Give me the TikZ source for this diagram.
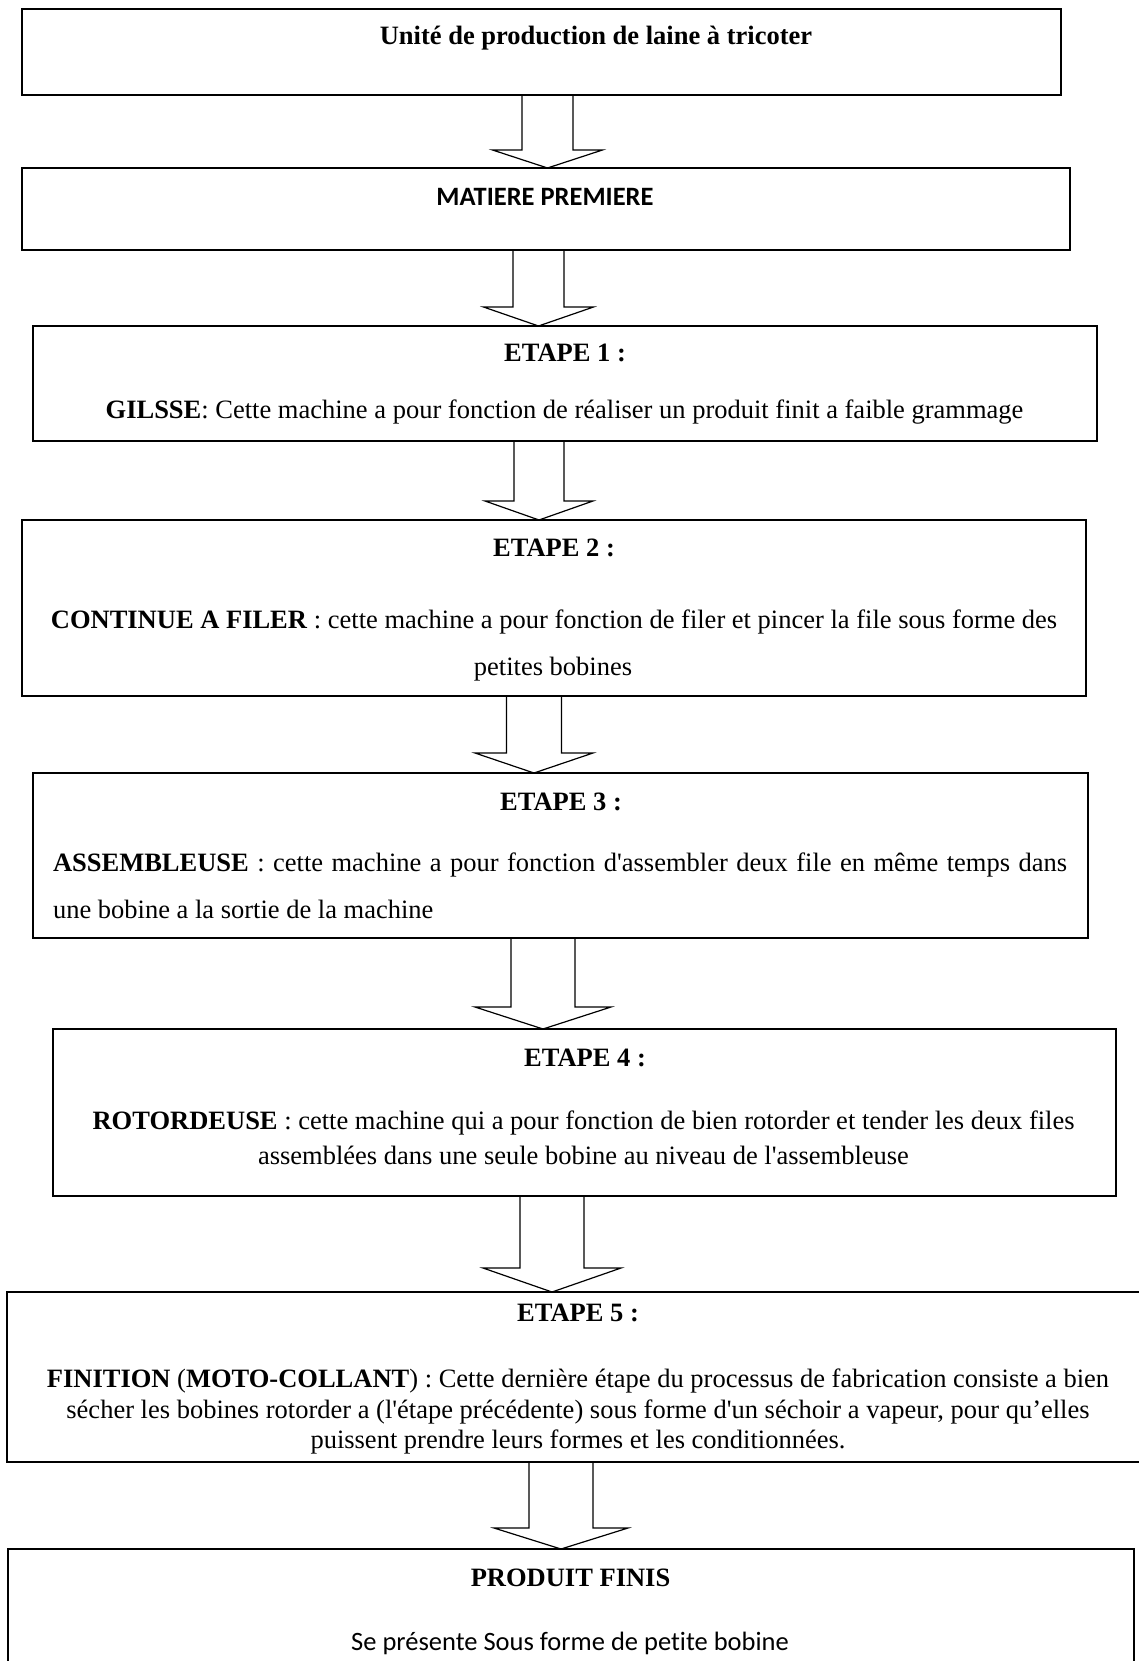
\documentclass[tikz,border=0pt]{standalone}
\usepackage{fontspec}
\setmainfont{Liberation Serif}
\newfontfamily\calibri{Carlito}[Ligatures={NoCommon}]
\usetikzlibrary{calc}

\tikzset{
  box/.style={draw=black, line width=1.6pt, inner sep=0pt, outer sep=0pt, anchor=north west},
  flow/.style={draw=black, line width=1.2pt, line join=miter},
  txt/.style={inner sep=0pt, outer sep=0pt, anchor=base, font=\fontsize{26.5}{30}\selectfont},
  hd/.style={txt, font=\fontsize{26.5}{30}\selectfont\bfseries},
  sans/.style={txt, font=\fontsize{26.5}{30}\selectfont\calibri},
}

% framed stage: name, left, top, right, bottom
\newcommand\stagebox[5]{%
  \node[box, minimum width={#4-#2}, minimum height={#5-#3}] (#1) at (#2,#3) {};}

% hollow block arrow between two stages:
% from, to, centre x, half shaft width, half head width, head length
\newcommand\blockarrow[6]{%
  \draw[flow] let \p1=(#1.south), \p2=(#2.north) in
    ({#3pt-#4pt},\y1) -- ({#3pt-#4pt},{\y2+#6pt}) -- ({#3pt-#5pt},{\y2+#6pt})
    -- (#3pt,\y2) -- ({#3pt+#5pt},{\y2+#6pt}) -- ({#3pt+#4pt},{\y2+#6pt})
    -- ({#3pt+#4pt},\y1);}

\begin{document}
\begin{tikzpicture}[x=1pt,y=-1pt]
\clip (0,0) rectangle (1139,1661);
\fill[white] (0,0) rectangle (1139,1661);

% stages
\stagebox{b1}{22}{9}{1061}{95}
\stagebox{b2}{22}{168}{1070}{250}
\stagebox{b3}{33}{326}{1097}{441}
\stagebox{b4}{22}{520}{1086}{696}
\stagebox{b5}{33}{773}{1088}{938}
\stagebox{b6}{53}{1029}{1116}{1196}
\stagebox{b7}{7}{1292}{1150}{1462}
\stagebox{b8}{8}{1549}{1134}{1690}

% flow between stages
\blockarrow{b1}{b2}{547.5}{25.5}{55}{18}
\blockarrow{b2}{b3}{538.5}{25.5}{55}{19}
\blockarrow{b3}{b4}{539}{25}{54}{19}
\blockarrow{b4}{b5}{534}{27.5}{59}{20}
\blockarrow{b5}{b6}{543}{32}{68}{22}
\blockarrow{b6}{b7}{552}{32}{69}{24}
\blockarrow{b7}{b8}{561}{32}{67}{21}

% texts
\node[hd] (t1) at (596,45) {Unité de production de laine à tricoter};
\node[sans, font=\fontsize{26.5}{30}\selectfont\calibri\bfseries] (t2) at (545,206) {MATIERE PREMIERE};

\node[hd] (e1) at (565,361) {ETAPE 1 :};
\node[txt] (e1a) at (564.5,418) {\textbf{GILSSE}: Cette machine a pour fonction de réaliser un produit finit a faible grammage};

\node[hd] (e2) at (554,556) {ETAPE 2 :};
\node[txt] (e2a) at (554,628) {\textbf{CONTINUE A FILER} : cette machine a pour fonction de filer et pincer la file sous forme des};
\node[txt] (e2b) at (553,675) {petites bobines};

\node[hd] (e3) at (561,810) {ETAPE 3 :};
\node[txt, anchor=base west] (e3a) at (53,871) {\hbox to 1014pt{\textbf{ASSEMBLEUSE} : cette machine a pour fonction d\textquotesingle assembler deux file en même temps dans}};
\node[txt, anchor=base west] (e3b) at (53,918) {une bobine a la sortie de la machine};

\node[hd] (e4) at (585,1066) {ETAPE 4 :};
\node[txt] (e4a) at (583.6,1129) {\textbf{ROTORDEUSE} : cette machine qui a pour fonction de bien rotorder et tender les deux files};
\node[txt] (e4b) at (583.5,1164) {assemblées dans une seule bobine au niveau de l\textquotesingle assembleuse};

\node[hd] (e5) at (578,1321) {ETAPE 5 :};
\node[txt] (e5a) at (578,1387) {\textbf{FINITION} (\textbf{MOTO-COLLANT}) : Cette dernière étape du processus de fabrication consiste a bien};
\node[txt] (e5b) at (578,1418) {sécher les bobines rotorder a (l\textquotesingle étape précédente) sous forme d\textquotesingle un séchoir a vapeur, pour qu’elles};
\node[txt] (e5c) at (578,1448) {puissent prendre leurs formes et les conditionnées.};

\node[hd] (f1) at (570.5,1586) {PRODUIT FINIS};
\node[sans] (f2) at (570,1650) {Se présente Sous forme de petite bobine};
\end{tikzpicture}
\end{document}
